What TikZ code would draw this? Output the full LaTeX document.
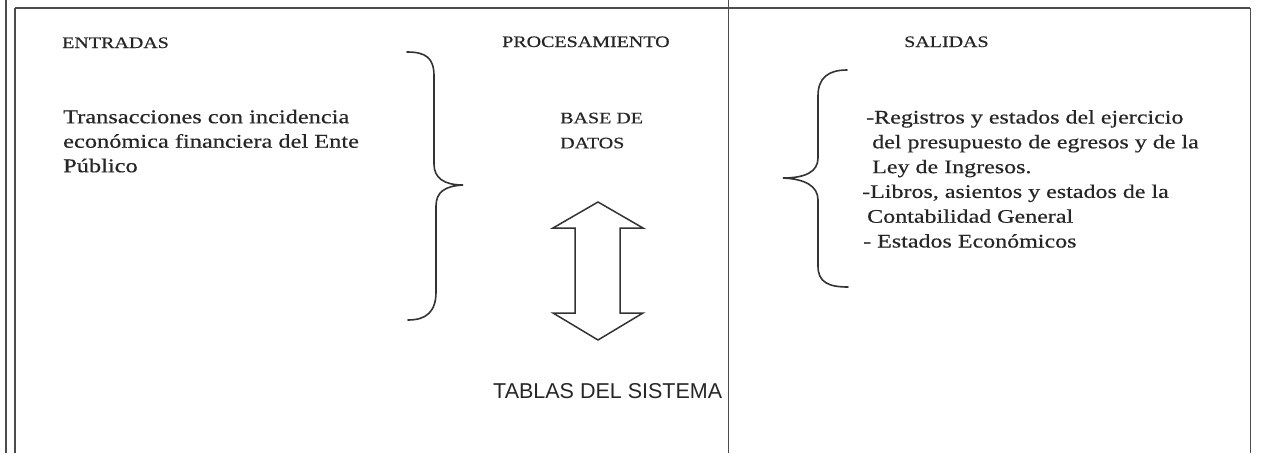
\documentclass[tikz,border=0pt]{standalone}
\usepackage{fontspec}
\setmainfont[FakeStretch=1.25,FakeBold=0.5]{Liberation Serif}
\setsansfont{Liberation Sans}

\begin{document}
\begin{tikzpicture}[x=1pt,y=-1pt,
		hdr/.style={anchor=base west,inner sep=0pt,text=black!85,font=\fontsize{16}{19}\selectfont},
		txt/.style={anchor=north west,inner sep=0pt,align=left,text=black!85},
		frame/.style={gray!60!black},
		brace/.style={line width=1.6pt,black!80,line cap=round}]
		\useasboundingbox (0,0) rectangle (1262,453);

		% Frame
		\draw[frame,line width=2pt] (6,0) -- (6,453);
		\draw[frame,line width=1.5pt] (15,8) -- (15,453);
		\draw[frame,line width=2pt] (15,8) -- (1250,8);
		\draw[frame,line width=1pt] (1250,8) -- (1250,453);
		\draw[line width=1pt,black!70] (728,0) -- (728,453);

		% Headings
		\node[hdr] (entradas) at (62,48) {ENTRADAS};
		\node[hdr] (proc) at (502,47) {PROCESAMIENTO};
		\node[hdr] (salidas) at (904,47) {SALIDAS};

		% Inputs
		\node[txt,font=\fontsize{19.5}{24.5}\selectfont] (trans) at (63,109.5)
		{Transacciones con incidencia\\econ\'omica financiera del Ente\\P\'ublico};
		\draw[brace] (407,52) .. controls (426,52) and (434,58) .. (434,76)
		-- (434,164) .. controls (434,178) and (444,185) .. (463,185)
		.. controls (445,186) and (436,192) .. (436,206)
		-- (436,292) .. controls (436,312) and (426,320) .. (408,320);

		% Processing
		\node[txt,font=\fontsize{16}{25}\selectfont] (base) at (560,112.5) {BASE DE\\DATOS};
		\coordinate (arr) at (598,271);
		\draw[line width=1.5pt,black!80,line join=miter]
		(arr) ++(0,-69) -- ++(45,26) -- ++(-23,0) -- ++(0,85) -- ++(23,0)
		-- ++(-45,27) -- ++(-45,-27) -- ++(22,0) -- ++(0,-85) -- ++(-22,0) -- cycle;
		\node[anchor=base west,inner sep=0pt,text=black!85,font=\sffamily\fontsize{21.5}{25}\selectfont]
		(tablas) at (493,398) {TABLAS DEL SISTEMA};

		% Outputs
		\draw[brace] (847,70) .. controls (828,70) and (818,78) .. (818,96)
		-- (818,158) .. controls (818,172) and (805,178) .. (783,178)
		.. controls (805,179) and (818,186) .. (818,200)
		-- (818,266) .. controls (818,282) and (828,287) .. (848,287);
		\node[txt,font=\fontsize{19.2}{24.8}\selectfont] (regs) at (862,110)
		{\hspace*{4pt}-Registros y estados del ejercicio\\
		\hspace*{10pt}del presupuesto de egresos y de la\\
		\hspace*{10pt}Ley de Ingresos.\\
		-Libros, asientos y estados de la\\
		\hspace*{5pt}Contabilidad General\\
		\hspace*{1pt}- Estados Econ\'omicos};
	\end{tikzpicture}
\end{document}
